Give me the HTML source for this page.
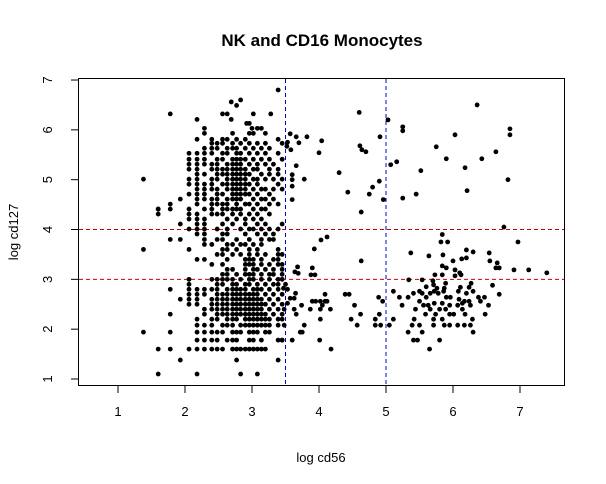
<!DOCTYPE html>
<html><head><meta charset="utf-8"><style>
html,body{margin:0;padding:0;background:#fff;}
svg{display:block;font-family:"Liberation Sans",Arial,sans-serif;}
</style></head><body>
<svg id="chart" width="606" height="484" xmlns="http://www.w3.org/2000/svg">
<rect width="606" height="484" fill="#fff"/>
<text x="322" y="46" font-size="17" font-weight="bold" text-anchor="middle">NK and CD16 Monocytes</text>
<text x="321" y="462" font-size="13" text-anchor="middle">log cd56</text>
<text x="18" y="232" font-size="13" text-anchor="middle" transform="rotate(-90 18 232)">log cd127</text>
<g id="axes"></g>
<g id="refs"></g>
<g id="pts"></g>
<rect x="78.5" y="78.5" width="486" height="307" fill="none" stroke="#000" stroke-width="1"/>
</svg>
<script>
const xTicks = [1,2,3,4,5,6,7];
const yTicks = [1,2,3,4,5,6,7];
const vLines = [3.5,5];
const hLines = [3,4];
// sparse points [cd56, cd127]
const sparsePoints = [
[3.39,6.80],[2.69,6.56],[2.83,6.60],[2.77,6.49],[1.78,6.32],[2.56,6.32],[2.63,6.32],[3.02,6.32],[3.28,6.32],
[2.18,6.21],[2.69,6.21],[2.92,6.13],[2.96,6.13],[2.29,6.03],[3.00,6.03],[3.08,6.03],[3.14,6.03],
[2.29,5.93],[2.71,5.93],[2.96,5.93],[3.02,5.93],[3.20,5.93],[2.18,5.81],[2.40,5.81],[2.56,5.81],[2.63,5.81],[2.77,5.81],[2.90,5.81],[3.39,5.81],
[1.38,5.01],[1.60,4.41],[1.78,4.51],
[4.60,6.35],[6.36,6.50],[5.03,6.20],[5.25,6.06],[5.25,5.98],[6.85,6.02],[6.85,5.90],[6.03,5.90],[4.91,5.86],
[4.61,5.68],[4.64,5.60],[4.70,5.56],[5.75,5.66],[6.64,5.56],[4.00,5.54],[5.90,5.42],[6.43,5.42],[5.16,5.36],[5.07,5.30],
[6.18,5.24],[4.30,5.14],[5.52,5.18],[6.82,5.00],[4.90,4.97],[4.80,4.85],[4.75,4.71],[4.43,4.75],[4.96,4.60],[5.25,4.63],
[5.45,4.71],[6.21,4.78],[4.63,4.35],[6.76,4.05],
[3.57,5.92],[3.66,5.86],[3.70,5.74],[3.82,5.86],[4.04,5.78],[3.53,5.75],[3.52,5.67],[3.58,5.60],[3.66,5.28],[3.60,5.10],
[3.60,5.00],[3.60,4.87],[3.78,5.01],[3.60,4.60],
[5.84,3.90],[5.82,3.75],[5.92,3.75],[6.97,3.75],[4.03,3.79],[4.12,3.85],[3.93,3.61],[5.37,3.53],[5.64,3.47],[5.85,3.49],
[6.20,3.59],[6.30,3.55],[6.54,3.53],[4.63,3.37],[6.00,3.37],[6.13,3.41],[6.20,3.43],[6.55,3.37],[6.66,3.33],[6.64,3.23],
[6.69,3.23],[6.91,3.19],[7.13,3.19],[7.40,3.13],[3.90,3.23],[3.88,3.09],[3.94,3.09],[3.68,3.25],[3.64,3.15],[3.69,3.12],
[5.84,3.27],[5.90,3.23],[5.84,3.09],[6.03,3.19],[6.03,3.07],[6.10,3.13],[6.12,3.09],[5.73,3.09],[5.70,2.97],[5.34,2.99],[5.54,2.99],
[5.11,2.76],[5.20,2.64],[5.33,2.64],[5.41,2.72],[5.50,2.76],[5.54,2.72],[5.60,2.64],[5.66,2.72],[5.72,2.76],[5.78,2.72],
[5.86,2.76],[5.89,2.92],[5.90,2.64],[5.84,2.52],[5.96,2.64],[6.08,2.76],[6.11,2.84],[6.20,2.72],[6.24,2.84],[6.27,2.92],
[6.30,2.76],[6.17,2.56],[6.24,2.56],[6.38,2.64],[6.47,2.64],[6.41,2.56],[6.59,2.88],[6.69,2.70],[6.53,2.48],[6.48,2.30],
[5.24,2.48],[5.44,2.40],[5.50,2.56],[5.56,2.48],[5.63,2.48],[5.66,2.40],[5.72,2.52],[5.80,2.40],[5.89,2.40],[5.95,2.48],
[6.07,2.48],[6.14,2.40],[6.26,2.48],[5.59,2.30],[5.74,2.30],[5.95,2.30],[6.01,2.30],[6.18,2.30],[5.42,2.20],[5.71,2.20],
[5.84,2.20],[6.29,2.20],[5.39,2.08],[5.50,2.08],[5.71,2.08],[5.87,2.08],[5.95,2.08],[6.07,2.08],[6.17,2.08],[6.26,2.08],
[5.33,1.94],[5.54,1.94],[6.30,1.94],[5.41,1.78],[5.47,1.78],[5.80,1.78],[5.65,1.60],[5.60,2.85],[5.71,2.89],[5.76,2.82],
[5.87,2.82],[6.14,2.52],[6.09,2.60],
[3.65,2.72],[3.63,2.62],[3.57,2.62],[3.53,2.52],[3.48,2.40],[3.63,2.40],[3.74,2.48],[3.66,2.30],[3.87,2.40],[3.90,2.56],
[3.95,2.56],[4.02,2.56],[4.05,2.48],[4.09,2.56],[4.12,2.56],[4.09,2.70],[4.17,2.40],[4.02,2.40],[4.02,2.20],[4.39,2.70],
[4.45,2.70],[4.53,2.48],[4.48,2.20],[4.57,2.08],[4.62,2.30],[4.84,2.20],[4.84,2.08],[4.90,2.30],[4.92,2.08],[4.89,2.64],
[4.95,2.56],[5.05,2.08],[5.11,2.20],[3.48,2.08],[3.78,2.08],[3.72,1.94],[3.75,1.94],[3.60,1.78],[3.45,1.78],[4.01,1.78],
[4.18,1.60],[3.50,2.90],[3.47,2.82],[3.53,2.80]
];
// dense cluster: cd127 levels and cd56 values observed at each level
const clusterLevels = [5.73,5.63,5.53,5.41,5.31,5.21,5.11,5.01,4.91,4.81,4.71,4.61,4.51,4.41,4.31,4.21,4.11,4.01,3.91,3.80,3.70,3.60,3.50,3.40,3.30,3.20,3.10,3.00,2.90,2.80,2.70,2.60,2.50,2.40,2.30,2.20,2.08,1.94,1.78,1.60,1.38,1.10];
const clusterMembers = [
[2.40,2.48,2.56,2.71,2.83,2.96,3.08,3.20,3.45],
[2.29,2.40,2.48,2.63,2.71,2.77,2.90,3.02,3.14,3.26],
[2.06,2.18,2.29,2.40,2.56,2.63,2.77,2.83,2.96,3.08,3.20,3.39],
[2.06,2.18,2.29,2.48,2.56,2.71,2.77,2.83,2.90,3.02,3.14,3.26,3.45],
[2.06,2.18,2.29,2.40,2.48,2.63,2.71,2.77,2.83,2.96,3.08,3.20,3.32],
[2.06,2.18,2.40,2.48,2.56,2.63,2.71,2.77,2.83,2.90,3.02,3.08,3.26,3.39],
[2.18,2.29,2.48,2.56,2.63,2.71,2.77,2.83,2.90,2.96,3.14,3.26,3.39],
[2.06,2.18,2.40,2.48,2.63,2.71,2.77,2.83,2.90,3.02,3.08,3.20,3.32,3.45],
[2.06,2.18,2.29,2.40,2.56,2.63,2.71,2.77,2.83,2.90,2.96,3.08,3.39],
[2.18,2.29,2.40,2.48,2.63,2.71,2.77,2.83,2.90,3.02,3.14,3.20,3.32,3.45],
[2.06,2.18,2.29,2.48,2.56,2.71,2.77,2.83,2.90,2.96,3.08,3.26],
[1.93,2.18,2.29,2.40,2.48,2.63,2.71,2.77,2.83,3.02,3.14,3.20,3.32],
[2.18,2.40,2.48,2.56,2.63,2.77,2.90,2.96,3.08,3.26,3.39],
[1.60,1.78,2.06,2.29,2.40,2.56,2.63,2.71,2.77,2.83,3.02,3.14,3.20],
[1.60,2.06,2.18,2.40,2.48,2.56,2.71,2.83,2.96,3.08,3.26],
[2.06,2.18,2.29,2.63,2.77,2.90,3.02,3.14],
[1.93,2.18,2.29,2.56,2.71,2.90,3.08,3.20,3.45],
[2.06,2.18,2.29,2.48,2.63,2.83,2.96,3.02,3.14,3.26,3.39],
[2.18,2.29,2.56,2.63,2.90,3.08,3.20,3.32],
[1.78,1.93,2.29,2.48,2.56,2.77,2.96,3.14,3.26,3.32],
[2.29,2.40,2.63,2.71,2.83,2.90,3.02,3.14],
[1.38,2.06,2.56,2.63,2.77,2.96,3.08,3.39],
[2.48,2.56,2.71,2.83,2.96,3.08,3.20,3.39,3.45],
[2.18,2.29,2.63,2.90,2.96,3.02,3.14,3.32,3.39],
[2.40,2.56,2.90,2.96,3.02,3.14,3.26,3.39,3.45],
[2.63,2.71,2.90,3.02,3.08,3.20,3.32,3.45],
[2.56,2.63,2.77,2.90,2.96,3.02,3.14,3.26,3.32,3.45],
[2.06,2.40,2.48,2.56,2.63,2.71,2.83,2.96,3.02,3.14,3.26,3.39,3.45],
[2.06,2.48,2.56,2.71,2.77,2.90,2.96,3.08,3.20,3.32,3.39],
[1.78,2.06,2.18,2.29,2.40,2.48,2.63,2.71,2.77,2.83,2.90,3.02,3.08,3.14,3.26,3.39],
[2.06,2.18,2.29,2.48,2.56,2.63,2.71,2.77,2.83,2.90,2.96,3.02,3.08,3.20,3.32,3.45],
[1.93,2.06,2.18,2.40,2.48,2.56,2.63,2.71,2.77,2.83,2.90,2.96,3.02,3.08,3.14,3.26,3.39],
[2.06,2.18,2.40,2.48,2.56,2.63,2.71,2.77,2.83,2.90,2.96,3.02,3.08,3.14,3.20,3.32,3.45],
[2.29,2.40,2.48,2.56,2.63,2.71,2.77,2.83,2.90,2.96,3.02,3.08,3.14,3.26,3.39],
[1.78,2.29,2.48,2.56,2.63,2.71,2.77,2.83,2.90,2.96,3.02,3.08,3.14,3.20,3.32,3.45],
[2.18,2.40,2.48,2.63,2.71,2.77,2.90,2.96,3.02,3.08,3.14,3.20,3.26,3.39,3.45],
[2.18,2.29,2.40,2.56,2.63,2.71,2.83,2.90,2.96,3.02,3.08,3.14,3.20,3.26,3.39],
[1.38,1.78,2.18,2.29,2.40,2.48,2.56,2.71,2.77,2.83,2.96,3.02,3.08,3.20,3.26],
[2.18,2.29,2.40,2.48,2.63,2.71,2.77,2.96,3.02,3.14,3.39,3.45],
[1.60,1.78,2.06,2.18,2.29,2.40,2.48,2.56,2.71,2.77,2.83,2.90,2.96,3.02,3.08,3.14,3.20],
[1.93,2.77,3.39],
[1.60,2.18,2.83,3.08]
];

const NS = "http://www.w3.org/2000/svg";
function sx(v){ return 118 + (v - 1) * 67; }
function sy(v){ return 379 - (v - 1) * 49.83; }
function mk(tag, attrs, parent){
  const e = document.createElementNS(NS, tag);
  for (const k in attrs) e.setAttribute(k, attrs[k]);
  parent.appendChild(e);
  return e;
}
const axes = document.getElementById('axes');
const refs = document.getElementById('refs');
const pts = document.getElementById('pts');

xTicks.forEach(t => {
  const l = mk('line', {x1: sx(t), x2: sx(t), y1: 386, y2: 393, stroke: '#000'}, axes);
  
  
  const tx = mk('text', {x: sx(t), y: 416, 'font-size': 13, 'text-anchor': 'middle'}, axes);
  tx.textContent = t;
  
  
});
yTicks.forEach(t => {
  const l = mk('line', {x1: 71, x2: 78, y1: sy(t), y2: sy(t), stroke: '#000'}, axes);
  
  
  const tx = mk('text', {x: 52, y: sy(t), 'font-size': 13, 'text-anchor': 'middle', transform: 'rotate(-90 52 ' + sy(t) + ')'}, axes);
  tx.textContent = t;
  
  
});
vLines.forEach(v => {
  const l = mk('line', {x1: sx(v), x2: sx(v), y1: 79, y2: 385, stroke: '#0000cc', 'stroke-dasharray': '4,3'}, refs);
  
  
});
hLines.forEach(v => {
  const l = mk('line', {x1: 79, x2: 564, y1: sy(v), y2: sy(v), stroke: '#cc0000', 'stroke-dasharray': '4,3'}, refs);
  
  
});
function dot(x, y){
  const c = mk('circle', {cx: sx(x), cy: sy(y), r: 2.4, fill: '#000'}, pts);
  
  
}
sparsePoints.forEach(p => dot(p[0], p[1]));
clusterLevels.forEach((lv, i) => clusterMembers[i].forEach(x => dot(x, lv)));
</script>
</body></html>
